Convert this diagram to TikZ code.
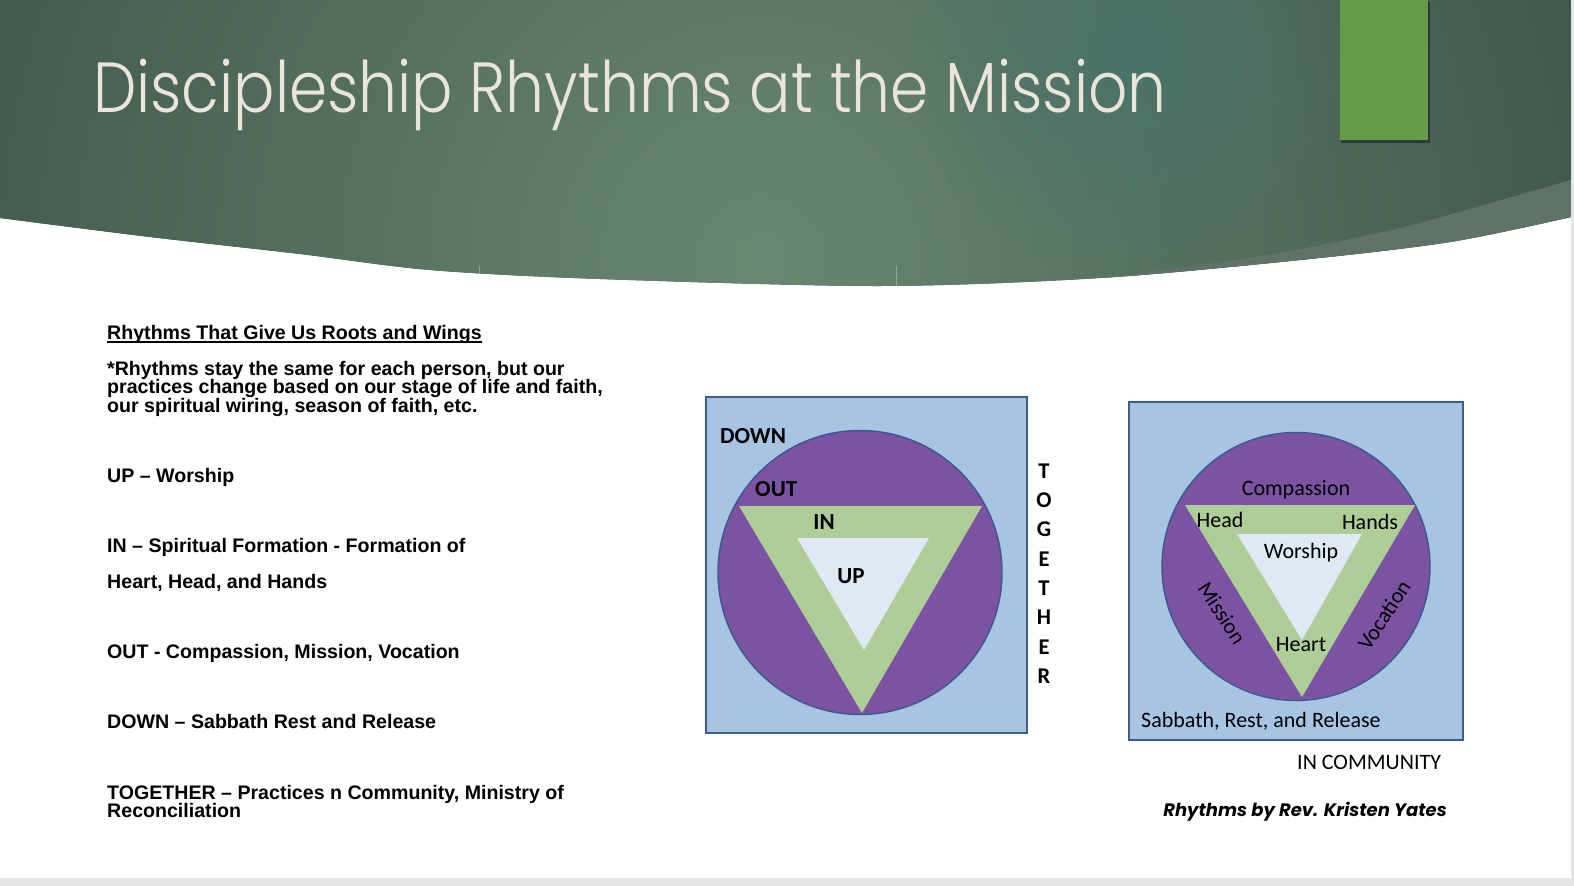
\documentclass[tikz,border=0pt]{standalone}
\usepackage{fontspec}
\setmainfont{Liberation Sans}
\IfFontExistsTF{Poppins Light}
  {\newfontfamily\titlefont[FakeStretch=0.865]{Poppins Light}}
  {\newfontfamily\titlefont[FakeStretch=0.865]{Poppins}}
\newfontfamily\gothfont{Poppins}
\newfontfamily\calfont{Carlito}
\usetikzlibrary{fadings}
\tikzfading[name=glowfade, inner color=transparent!0, outer color=transparent!100]
\definecolor{hdark}{HTML}{374D42}
\definecolor{hlight}{HTML}{688872}
\definecolor{hglow}{HTML}{4C746B}
\definecolor{hband}{HTML}{5F7368}
\definecolor{gbar}{HTML}{649C47}
\definecolor{titlecol}{HTML}{E9E5DA}
\definecolor{boxblue}{HTML}{A7C4E2}
\definecolor{boxborder}{HTML}{3E5F8E}
\definecolor{circpurple}{HTML}{7C52A3}
\definecolor{circborder}{HTML}{3B5A8B}
\definecolor{trigreen}{HTML}{AFCD96}
\definecolor{triinner}{HTML}{DFE9F4}
\definecolor{stripgray}{HTML}{E4E4E4}
\definecolor{tickcol}{HTML}{8EA595}
\tikzset{
  bodytext/.style={anchor=base west, inner sep=0pt, font=\fontsize{19.6}{19.6}\selectfont\bfseries},
  boxstyle/.style={fill=boxblue, draw=boxborder, line width=1.6pt},
  circstyle/.style={fill=circpurple, draw=circborder, line width=1.4pt},
  lblbold/.style={inner sep=0pt, font=\calfont\fontsize{23}{23}\selectfont\bfseries},
  lblreg/.style={inner sep=0pt, font=\calfont\fontsize{22}{22}\selectfont},
}
\begin{document}
\begin{tikzpicture}[x=1pt,y=-1pt]
\useasboundingbox (0,0) rectangle (1574,886);
\fill[white] (0,0) rectangle (1574,886);
% header
\begin{scope}
\clip (0,0) -- (1571,0) -- (1571,217) -- plot[smooth] coordinates {(1571,217) (1450,242) (1300,260) (1100,278) (880,286) (600,279) (430,270) (300,254) (150,237) (0,218)} -- cycle;
\fill[hdark] (0,0) rectangle (1574,300);
\shade[inner color=hlight, outer color=hdark] (760,260) circle[radius=1050pt];
\fill[hglow, path fading=glowfade] (1130,55) circle[radius=220pt];
\fill[hband] (1571,180) -- plot[smooth] coordinates {(1571,180) (1480,206) (1400,228) (1300,249) (1200,265) (1100,278)} -- (1100,300) -- (1574,300) -- cycle;
\end{scope}
\draw[tickcol, line width=1pt] (479,266) -- (479,274);
\draw[tickcol, line width=1pt] (896,266) -- (896,286);
% green bar
\fill[black, opacity=0.4] (1341,2) rectangle (1430,143);
\fill[gbar] (1340,0) rectangle (1428,140);
% title
\node[anchor=base west, inner sep=0pt, text=titlecol, font=\titlefont\fontsize{71}{71}\selectfont] (title) at (93,112) {Discipleship Rhythms at the Mission};
% strips
\fill[stripgray] (1571,0) rectangle (1574,886);
\fill[stripgray] (0,878) rectangle (1574,886);
% left text
\node[bodytext] (head) at (107,339) {Rhythms That Give Us Roots and Wings};
\draw[line width=1.3pt] ([yshift=-3pt]head.base west) -- ([yshift=-3pt]head.base east);
\node[bodytext] (p1) at (107,375) {*Rhythms stay the same for each person, but our};
\node[bodytext] (p2) at (107,393) {practices change based on our stage of life and faith,};
\node[bodytext] (p3) at (107,412) {our spiritual wiring, season of faith, etc.};
\node[bodytext] (up) at (107,482) {UP – Worship};
\node[bodytext] (in1) at (107,552) {IN – Spiritual Formation - Formation of};
\node[bodytext] (in2) at (107,588) {Heart, Head, and Hands};
\node[bodytext] (out) at (107,658) {OUT - Compassion, Mission, Vocation};
\node[bodytext] (down) at (107,728) {DOWN – Sabbath Rest and Release};
\node[bodytext] (tog1) at (107,799) {TOGETHER – Practices n Community, Ministry of};
\node[bodytext] (tog2) at (107,817) {Reconciliation};
% diagram 1
\draw[boxstyle] (706,397) rectangle (1027,733);
\draw[circstyle] (860,572.5) circle[radius=142pt];
\fill[trigreen] (739,506) -- (982,506) -- (862,713) -- cycle;
\fill[triinner] (797,538) -- (929,538) -- (864,650) -- cycle;
\node[lblbold, anchor=west] (ldown) at (720,436) {DOWN};
\node[lblbold, anchor=west] (lout) at (755,489) {OUT};
\node[lblbold] (lin) at (824,522) {IN};
\node[lblbold] (lup) at (851,576) {UP};
\node[align=center, inner sep=0pt, font=\calfont\fontsize{22.5}{29.3}\selectfont\bfseries] (together) at (1044,573.5) {T\\O\\G\\E\\T\\H\\E\\R};
% diagram 2
\draw[boxstyle] (1129,402) rectangle (1463,740);
\draw[circstyle] (1296,566.5) circle[radius=134pt];
\fill[trigreen] (1185,505) -- (1415,505) -- (1302,697) -- cycle;
\fill[triinner] (1237,534) -- (1362,534) -- (1302,640) -- cycle;
\node[lblreg] (comp) at (1296,490) {Compassion};
\node[lblreg] (lhead) at (1220,520) {Head};
\node[lblreg] (lhands) at (1370,522) {Hands};
\node[lblreg] (wor) at (1301,553) {Worship};
\node[lblreg, rotate=-57] (mis) at (1222,613) {Mission};
\node[lblreg, rotate=57] (voc) at (1384,615) {Vocation};
\node[lblreg] (heart) at (1301,645) {Heart};
\node[lblreg, anchor=west] (sab) at (1141,721) {Sabbath, Rest, and Release};
\node[lblreg, anchor=west] (comm) at (1297,762) {IN COMMUNITY};
\node[anchor=east, inner sep=0pt, font=\gothfont\fontsize{18}{18}\selectfont\bfseries\itshape] (credit) at (1447,812) {Rhythms by Rev. Kristen Yates};
\end{tikzpicture}
\end{document}
